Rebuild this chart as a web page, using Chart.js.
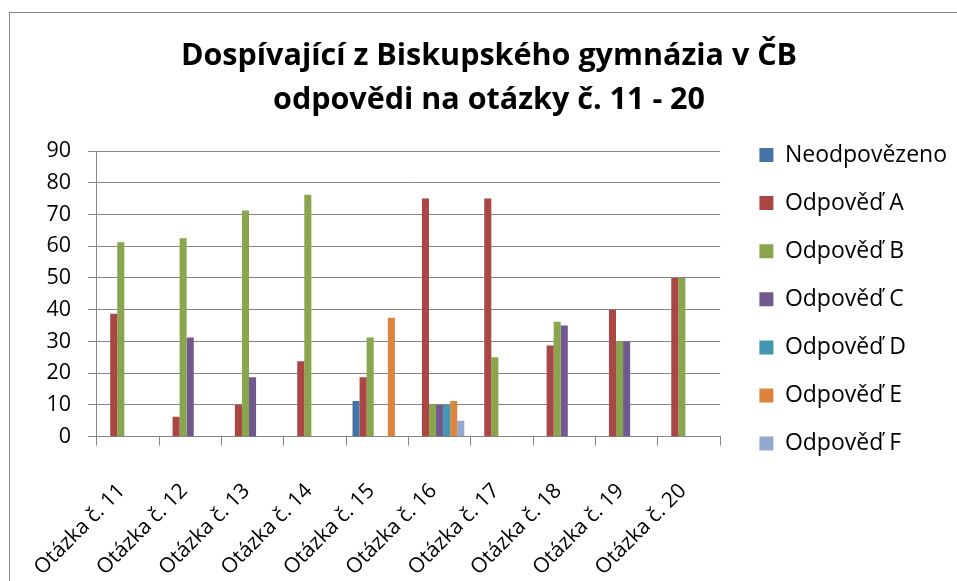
<!DOCTYPE html>
<html>
<head>
<meta charset="utf-8">
<script src="https://cdn.jsdelivr.net/npm/chart.js@4/dist/chart.umd.min.js"></script>
<style>
  html, body { margin: 0; padding: 0; background: #fff; overflow: hidden; width: 957px; height: 581px; }
  #frame { position: absolute; left: 9px; top: 12px; width: 1000px; height: 1000px; border: 1px solid #868686; box-sizing: border-box; }
  #c { position: absolute; left: 0; top: 0; }
</style>
</head>
<body>
<div id="frame"></div>
<canvas id="c" width="957" height="581"></canvas>
<script>
// ---- data ----
const categories = ['Otázka č. 11', 'Otázka č. 12', 'Otázka č. 13', 'Otázka č. 14', 'Otázka č. 15',
                    'Otázka č. 16', 'Otázka č. 17', 'Otázka č. 18', 'Otázka č. 19', 'Otázka č. 20'];
const seriesNames = ['Neodpovězeno', 'Odpověď A', 'Odpověď B', 'Odpověď C', 'Odpověď D', 'Odpověď E', 'Odpověď F'];
const neodpovezeno = [0, 0, 0, 0, 11.25, 0, 0, 0, 0, 0];
const odpovedA = [38.75, 6.25, 10, 23.75, 18.75, 75, 75, 28.75, 40, 50];
const odpovedB = [61.25, 62.5, 71.25, 76.25, 31.25, 10, 25, 36.25, 30, 50];
const odpovedC = [0, 31.25, 18.75, 0, 0, 10, 0, 35, 30, 0];
const odpovedD = [0, 0, 0, 0, 0, 10, 0, 0, 0, 0];
const odpovedE = [0, 0, 0, 0, 37.5, 11.25, 0, 0, 0, 0];
const odpovedF = [0, 0, 0, 0, 0, 5, 0, 0, 0, 0];
const yMin = 0, yMax = 90, yStep = 10;
const titleLines = ['Dospívající z Biskupského gymnázia v ČB', 'odpovědi na otázky č. 11 - 20'];

// ---- styles ----
const colors = ['#4572A7', '#AA4643', '#89A54E', '#71588F', '#4198AF', '#DB843D', '#93A9CF'];
const allSeries = [neodpovezeno, odpovedA, odpovedB, odpovedC, odpovedD, odpovedE, odpovedF];
const gridColor = '#868686';
const FONT = 'Open Sans';

const datasets = allSeries.map((vals, i) => ({
  label: seriesNames[i],
  data: vals,
  backgroundColor: colors[i],
  borderWidth: 0,
  categoryPercentage: 0.793,
  barPercentage: 1.0
}));

new Chart(document.getElementById('c'), {
  type: 'bar',
  data: { labels: categories, datasets },
  options: {
    responsive: false,
    animation: false,
    devicePixelRatio: 1,
    layout: { padding: { top: 17.6, left: 21, right: 0, bottom: 0 } },
    plugins: {
      tooltip: { enabled: false },
      title: {
        display: true,
        text: titleLines,
        color: '#000',
        font: { family: FONT, weight: 'bold', size: 30.5, lineHeight: 44 / 30.5 },
        padding: { top: 16.5, bottom: 28.9 }
      },
      legend: {
        position: 'right',
        maxWidth: 228.1,
        labels: {
          color: '#000',
          font: { family: FONT, size: 23 },
          boxWidth: 14,
          boxHeight: 14,
          padding: 25.1
        }
      }
    },
    scales: {
      x: {
        grid: { drawOnChartArea: false, color: gridColor, tickLength: 9, offset: true },
        border: { color: gridColor, width: 1 },
        ticks: {
          color: '#000',
          font: { family: FONT, size: 21 },
          minRotation: 45, maxRotation: 45, autoSkip: false,
          padding: 33, labelOffset: -6
        },
        afterFit: (s) => { s.height = 144.3; }
      },
      y: {
        min: yMin, max: yMax,
        ticks: { stepSize: yStep, color: '#000', font: { family: FONT, size: 21.5 }, padding: 17 },
        grid: { color: gridColor, lineWidth: 1, tickLength: 8.7 },
        border: { color: gridColor, width: 1 },
        afterFit: (s) => { s.width = 75.7; }
      },
      gap: {
        type: 'linear', position: 'right', display: true,
        grid: { display: false }, border: { display: false }, ticks: { display: false },
        afterFit: (s) => { s.width = 14.2; }
      }
    }
  }
});
</script>
</body>
</html>
